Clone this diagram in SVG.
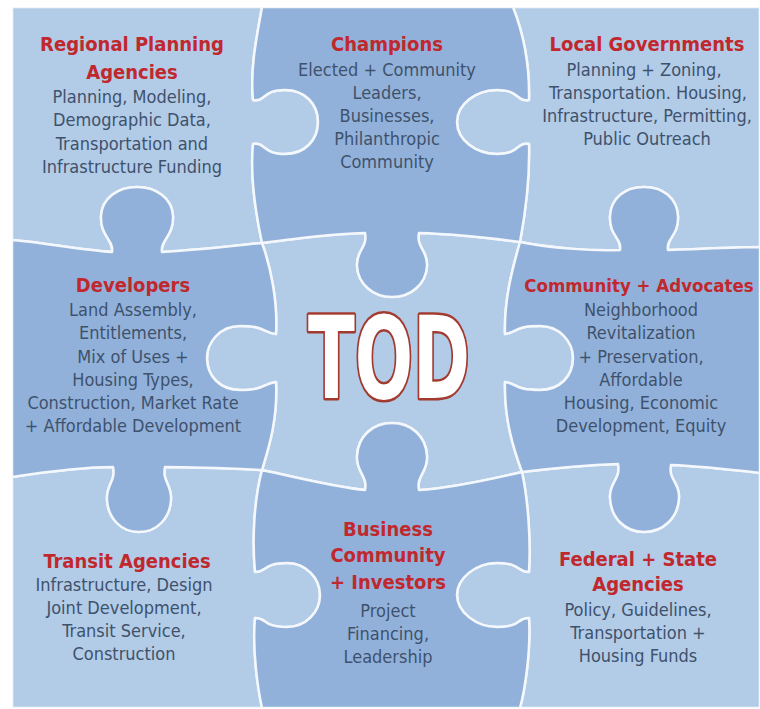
<svg xmlns="http://www.w3.org/2000/svg" width="760" height="709" viewBox="0 0 760 709">
<style>
.light{fill:#b2cbe7;stroke:#f4f8fc;stroke-width:2.5;stroke-linejoin:round}
.dark{fill:#92b1da;stroke:#f4f8fc;stroke-width:2.5;stroke-linejoin:round}
.t{font-family:"DejaVu Sans Condensed","DejaVu Sans",sans-serif;font-stretch:condensed;font-weight:bold;font-size:20px;fill:#c0282e;text-anchor:middle}
.b{font-family:"DejaVu Sans Condensed","DejaVu Sans",sans-serif;font-stretch:condensed;font-size:18px;fill:#3e526c;text-anchor:middle}
.tod{font-family:"DejaVu Sans Condensed","DejaVu Sans",sans-serif;font-stretch:condensed;font-weight:bold;font-size:114px;fill:#ffffff;stroke:#a33a2f;stroke-width:5;paint-order:stroke;stroke-linejoin:round;text-anchor:middle}
</style>
<defs>
<clipPath id="frame"><rect x="12" y="7" width="748" height="701"/></clipPath>
</defs>
<rect width="760" height="709" fill="#ffffff"/>
<g clip-path="url(#frame)">
<g id="regional-planning-agencies">
<path class="light" d="M12,7 L262,7 C256,40 250,70 253,100 C266,102 262,90 285,90 C305,90 318,104 318,122 C318,140 305,154 285,154 C262,154 266,142 253,144 C250,175 256,215 262,243 C240,245 200,250 162,252 C160,240 174,236 173,216 C172,198 156,187 137,187 C118,187 102,198 101,216 C100,236 114,240 112,252 C80,250 40,242 12,240 Z"/>
<text class="t" x="132" y="51">Regional Planning</text>
<text class="t" x="132" y="79">Agencies</text>
<text class="b" x="132" y="103">Planning, Modeling,</text>
<text class="b" x="132" y="126">Demographic Data,</text>
<text class="b" x="132" y="150">Transportation and</text>
<text class="b" x="132" y="173">Infrastructure Funding</text>
</g>
<g id="local-governments">
<path class="light" d="M513,7 L760,7 L760,247 C735,247 700,249 668,250 C666,238 679,236 678,216 C677,198 663,187 644,187 C625,187 611,198 610,216 C609,236 622,238 620,250 C590,251 550,248 520,242 C525,215 530,180 529,144 C516,142 520,154 497,154 C476,154 457,140 457,122 C457,104 476,90 497,90 C520,90 516,102 529,100 C530,60 522,30 513,7 Z"/>
<text class="t" x="647" y="51">Local Governments</text>
<text class="b" x="644" y="76">Planning + Zoning,</text>
<text class="b" x="648" y="99">Transportation. Housing,</text>
<text class="b" x="647" y="122">Infrastructure, Permitting,</text>
<text class="b" x="647" y="145">Public Outreach</text>
</g>
<g id="tod">
<path class="light" d="M262,243 C300,238 330,234 365,233 C368,248 356,250 357,266 C358,284 373,297 392,297 C411,297 426,284 427,266 C428,250 416,248 419,233 C455,234 490,238 520,242 C512,270 504,300 505,334 C518,332 514,326 540,326 C560,326 573,342 573,358 C573,376 560,390 540,390 C514,390 518,384 505,382 C504,420 514,450 522,472 C495,478 455,488 419,490 C416,476 428,472 427,456 C426,436 411,423 392,423 C373,423 358,436 357,456 C356,472 368,476 365,490 C335,487 300,478 262,470 C268,450 278,420 276,382 C262,384 266,390 240,390 C220,390 207,376 207,358 C207,342 220,326 240,326 C266,326 262,332 276,334 C278,300 270,265 262,243 Z"/>
<text class="tod" x="389" y="398" textLength="162" lengthAdjust="spacingAndGlyphs">TOD</text>
</g>
<g id="transit-agencies">
<path class="light" d="M12,477 C45,472 85,467 113,467 C116,482 106,484 107,500 C108,518 121,532 139,532 C157,532 170,518 171,500 C172,484 162,482 165,467 C200,467 240,469 262,470 C254,500 252,540 255,572 C268,572 262,563 287,563 C306,563 320,578 320,595 C320,612 306,627 287,627 C262,627 268,618 255,618 C252,650 258,690 262,708 L12,708 Z"/>
<text class="t" x="127" y="568">Transit Agencies</text>
<text class="b" x="124" y="591">Infrastructure, Design</text>
<text class="b" x="124" y="614">Joint Development,</text>
<text class="b" x="124" y="637">Transit Service,</text>
<text class="b" x="124" y="660">Construction</text>
</g>
<g id="federal-state-agencies">
<path class="light" d="M522,472 C555,468 590,465 618,464 C621,480 609,482 610,498 C611,518 625,532 644,532 C663,532 678,518 679,498 C680,482 668,480 671,465 C700,466 735,470 760,473 L760,708 L520,708 C525,690 531,650 529,618 C516,618 522,627 497,627 C476,627 457,612 457,595 C457,578 476,563 497,563 C522,563 516,572 529,572 C531,540 528,500 522,472 Z"/>
<text class="t" x="638" y="566">Federal + State</text>
<text class="t" x="638" y="591">Agencies</text>
<text class="b" x="638" y="616">Policy, Guidelines,</text>
<text class="b" x="638" y="639">Transportation +</text>
<text class="b" x="638" y="662">Housing Funds</text>
</g>
<g id="champions">
<path class="dark" d="M262,7 L513,7 C522,30 530,60 529,100 C516,102 520,90 497,90 C476,90 457,104 457,122 C457,140 476,154 497,154 C520,154 516,142 529,144 C530,180 525,215 520,242 C490,238 455,234 419,233 C416,248 428,250 427,266 C426,284 411,297 392,297 C373,297 358,284 357,266 C356,250 368,248 365,233 C330,234 300,238 262,243 C256,215 250,175 253,144 C266,142 262,154 285,154 C305,154 318,140 318,122 C318,104 305,90 285,90 C262,90 266,102 253,100 C250,70 256,40 262,7 Z"/>
<text class="t" x="387" y="51">Champions</text>
<text class="b" x="387" y="76">Elected + Community</text>
<text class="b" x="387" y="99">Leaders,</text>
<text class="b" x="387" y="122">Businesses,</text>
<text class="b" x="387" y="145">Philanthropic</text>
<text class="b" x="387" y="168">Community</text>
</g>
<g id="developers">
<path class="dark" d="M12,240 C40,242 80,250 112,252 C114,240 100,236 101,216 C102,198 118,187 137,187 C156,187 172,198 173,216 C174,236 160,240 162,252 C200,250 240,245 262,243 C270,265 278,300 276,334 C262,332 266,326 240,326 C220,326 207,342 207,358 C207,376 220,390 240,390 C266,390 262,384 276,382 C278,420 268,450 262,470 C240,469 200,467 165,467 C162,482 172,484 171,500 C170,518 157,532 139,532 C121,532 108,518 107,500 C106,484 116,482 113,467 C85,467 45,472 12,477 Z"/>
<text class="t" x="133" y="292">Developers</text>
<text class="b" x="133" y="316">Land Assembly,</text>
<text class="b" x="133" y="339">Entitlements,</text>
<text class="b" x="133" y="363">Mix of Uses +</text>
<text class="b" x="133" y="386">Housing Types,</text>
<text class="b" x="133" y="409">Construction, Market Rate</text>
<text class="b" x="133" y="432">+ Affordable Development</text>
</g>
<g id="community-advocates">
<path class="dark" d="M520,242 C550,248 590,251 620,250 C622,238 609,236 610,216 C611,198 625,187 644,187 C663,187 677,198 678,216 C679,236 666,238 668,250 C700,249 735,247 760,247 L760,473 C735,470 700,466 671,465 C668,480 680,482 679,498 C678,518 663,532 644,532 C625,532 611,518 610,498 C609,482 621,480 618,464 C590,465 555,468 522,472 C514,450 504,420 505,382 C518,384 514,390 540,390 C560,390 573,376 573,358 C573,342 560,326 540,326 C514,326 518,332 505,334 C504,300 512,270 520,242 Z"/>
<text class="t" x="639" y="292" style="font-size:18.5px">Community + Advocates</text>
<text class="b" x="641" y="316">Neighborhood</text>
<text class="b" x="641" y="339">Revitalization</text>
<text class="b" x="641" y="363">+ Preservation,</text>
<text class="b" x="641" y="386">Affordable</text>
<text class="b" x="641" y="409">Housing, Economic</text>
<text class="b" x="641" y="432">Development, Equity</text>
</g>
<g id="business-community-investors">
<path class="dark" d="M262,470 C300,478 335,487 365,490 C368,476 356,472 357,456 C358,436 373,423 392,423 C411,423 426,436 427,456 C428,472 416,476 419,490 C455,488 495,478 522,472 C528,500 531,540 529,572 C516,572 522,563 497,563 C476,563 457,578 457,595 C457,612 476,627 497,627 C522,627 516,618 529,618 C531,650 525,690 520,708 L262,708 C258,690 252,650 255,618 C268,618 262,627 287,627 C306,627 320,612 320,595 C320,578 306,563 287,563 C262,563 268,572 255,572 C252,540 254,500 262,470 Z"/>
<text class="t" x="388" y="536">Business</text>
<text class="t" x="388" y="562">Community</text>
<text class="t" x="388" y="589">+ Investors</text>
<text class="b" x="388" y="617">Project</text>
<text class="b" x="388" y="640">Financing,</text>
<text class="b" x="388" y="663">Leadership</text>
</g>
</g>
</svg>
